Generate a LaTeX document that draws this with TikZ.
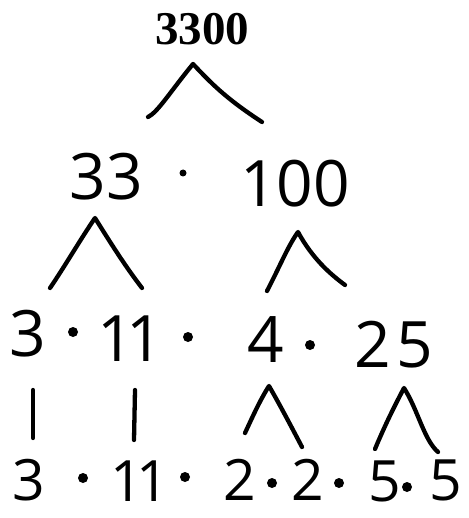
\documentclass[tikz,border=0pt]{standalone}
\usepackage{fontspec}
\setmainfont{Liberation Serif}
\newfontfamily\handfont{Open Sans}
\begin{document}
\begin{tikzpicture}[x=1pt,y=-1pt,
  num/.style={inner sep=0pt,font=\handfont\fontsize{64}{64}\selectfont},
  numlow/.style={inner sep=0pt,font=\handfont\fontsize{57}{57}\selectfont},
  dotmark/.style={circle,fill=black,inner sep=0pt,minimum size=10pt},
  stroke/.style={line width=4.3pt,line cap=round,line join=round}]
\useasboundingbox (0,0) rectangle (468,518);
% top
\node[inner sep=0pt,font=\bfseries\fontsize{47}{47}\selectfont] (top) at (202,29) {3300};
% row 2
\node[num] (n33) at (106,177) {33};
\node[dotmark,minimum size=7pt] (d21) at (183,173) {};
\node[num] (n100) at (295,184) {100};
% row 3
\node[num] (r3a) at (28,334) {3};
\node[dotmark] (d31) at (73,332) {};
\node[num] (r3b) at (130,339) {1\hspace{-8pt}1};
\node[dotmark] (d32) at (188,337) {};
\node[num] (r3c) at (266,340) {4};
\node[dotmark] (d33) at (310,345) {};
\node[num] (r3d) at (394,345) {2\hspace{6pt}5};
% row 5
\node[numlow] (r5a) at (29,480) {3};
\node[dotmark] (d51) at (83,478) {};
\node[numlow] (r5b) at (140,481) {1\hspace{-7pt}1};
\node[dotmark] (d52) at (185,477) {};
\node[numlow] (r5c) at (240,480) {2};
\node[dotmark] (d53) at (272,483) {};
\node[numlow] (r5d) at (308,480) {2};
\node[dotmark] (d54) at (339,483) {};
\node[numlow] (r5e) at (385,481) {5};
\node[dotmark] (d55) at (407,487) {};
\node[numlow] (r5f) at (446,480) {5};
% connector coordinates
\coordinate (t0) at (193,64);  \coordinate (tl) at (148,117); \coordinate (tr) at (262,122);
\coordinate (a0) at (95,218);  \coordinate (al) at (50,288);  \coordinate (ar) at (142,288);
\coordinate (b0) at (298,232); \coordinate (bl) at (267,291); \coordinate (br) at (345,285);
\coordinate (c1t) at (33,390); \coordinate (c1b) at (33,438);
\coordinate (c2t) at (135,390); \coordinate (c2b) at (134,440);
\coordinate (e0) at (269,386); \coordinate (el) at (245,433); \coordinate (er) at (302,447);
\coordinate (f0) at (404,388); \coordinate (fl) at (375,449); \coordinate (fr) at (438,452);
% connectors
\draw[stroke] (tl) .. controls (158,112) and (170,92) .. (t0) .. controls (210,82) and (225,98) .. (tr);
\draw[stroke] (al) .. controls (65,266) and (80,240) .. (a0) .. controls (110,242) and (125,266) .. (ar);
\draw[stroke] (bl) .. controls (280,266) and (288,246) .. (b0) .. controls (312,258) and (330,274) .. (br);
\draw[stroke] (c1t) -- (c1b);
\draw[stroke] (c2t) -- (c2b);
\draw[stroke] (el) .. controls (252,418) and (260,400) .. (e0) .. controls (280,405) and (292,428) .. (er);
\draw[stroke] (fl) .. controls (385,425) and (395,405) .. (f0) .. controls (418,410) and (424,440) .. (fr);
\end{tikzpicture}
\end{document}
